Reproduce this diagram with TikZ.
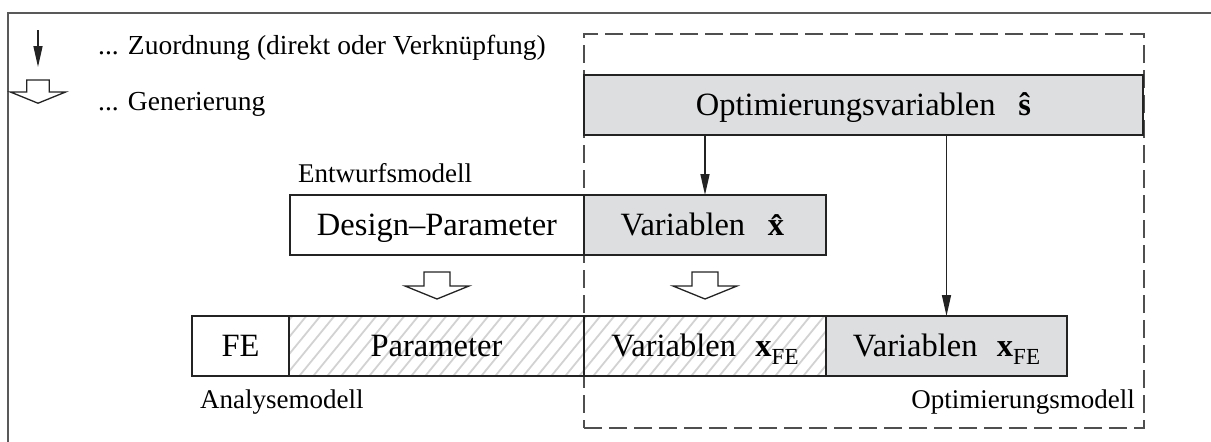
\documentclass[tikz,border=0pt]{standalone}
\usepackage{fontspec}
\setmainfont{Liberation Serif}
\usetikzlibrary{arrows.meta,backgrounds}
\definecolor{boxgray}{RGB}{221,222,224}
\definecolor{hatchgray}{RGB}{210,210,210}
\definecolor{ink}{RGB}{35,35,35}
\newcommand{\bigtxt}{\fontsize{32.5}{38}\selectfont}
\newcommand{\smalltxt}{\fontsize{27}{32}\selectfont}
\newcommand{\legtxt}{\fontsize{27.5}{32}\selectfont}
\newcommand{\subFE}{\raisebox{-0.25em}{\fontsize{23}{26}\selectfont FE}}
\begin{document}
\begin{tikzpicture}[x=1pt,y=-1pt,
  box/.style={draw=ink, line width=1.5pt, rectangle, inner sep=0pt, outer sep=0pt, minimum height=60pt, text height=21.5pt, text depth=0pt, font=\bigtxt},
  graybox/.style={box, fill=boxgray},
  lbl/.style={inner sep=0pt, font=\smalltxt},
  leg/.style={inner sep=0pt, font=\legtxt},
  zarrow/.style={draw=ink, line width=1.5pt, -{Triangle[length=21pt,width=9pt]}},
  dframe/.style={draw=ink!80, line width=1.5pt, dash pattern=on 18pt off 7pt, rectangle, inner sep=0pt, outer sep=0pt},
  hatch/.style={draw=hatchgray, line width=1.8pt},
  outer/.style={draw=gray!70!black, line width=1.8pt},
  genarrow/.pic={\draw[draw=ink, line width=1.3pt, fill=white, line join=miter] (-13,0) -- (13,0) -- (13,14) -- (32,14) -- (0,27) -- (-32,14) -- (-13,14) -- cycle;}
]
\useasboundingbox (0,0) rectangle (1211,442);

% outer frame (partly visible)
\coordinate (fbl) at (7.7,442);
\coordinate (ftl) at (7.7,12.7);
\coordinate (ftr) at (1211,12.7);
\draw[outer] (fbl) -- (ftl) -- (ftr);

% boxes
\node[graybox, minimum width=559pt] (opt) at (863.5,105) {Optimierungsvariablen\hspace{0.7em}\textbf{\^{s}}};
\node[box, minimum width=294pt] (design) at (437,225) {Design–Parameter};
\node[graybox, minimum width=242pt] (varx) at (705,225) {Variablen\hspace{0.7em}\textbf{\^{x}}};
\node[box, minimum width=97pt] (fe) at (240.5,346) {FE};
\node[box, minimum width=295pt] (param) at (436.5,346) {Parameter};
\node[box, minimum width=242pt] (varh) at (705,346) {Variablen\hspace{0.6em}\textbf{x}\subFE};
\node[graybox, minimum width=241pt] (varg) at (946.5,346) {Variablen\hspace{0.6em}\textbf{x}\subFE};

% dashed optimisation frame and hatching
\begin{scope}[on background layer]
  \node[dframe, minimum width=560pt, minimum height=394pt] (optframe) at (864,231) {};
  \begin{scope}
    \clip (param.south west) rectangle (varh.north east);
    \foreach \i in {0,...,46} \draw[hatch] (226+\i*14,380) -- ++(54,-66);
  \end{scope}
\end{scope}

% labels
\node[leg, anchor=base west] (lblz) at (98,54) {... Zuordnung (direkt oder Verknüpfung)};
\node[leg, anchor=base west] (lblg) at (98,110) {... Generierung};
\node[lbl, anchor=base west] (lblent) at (298,182) {Entwurfsmodell};
\node[lbl, anchor=base west] (lblana) at (200,408) {Analysemodell};
\node[lbl, anchor=base east] (lblopt) at (1135,408) {Optimierungsmodell};

% assignment arrows
\draw[zarrow] (varx.north |- opt.south) -- (varx.north);
\draw[zarrow] (varg.north |- opt.south) -- (varg.north);

% generation arrows
\pic at ([yshift=-17pt]design.south) {genarrow};
\pic at ([yshift=-17pt]varx.south) {genarrow};

% legend
\coordinate (lz1) at (38,30);
\coordinate (lz2) at (38,67);
\draw[zarrow] (lz1) -- (lz2);
\pic[scale=0.86] at (38,80) {genarrow};
\end{tikzpicture}
\end{document}
